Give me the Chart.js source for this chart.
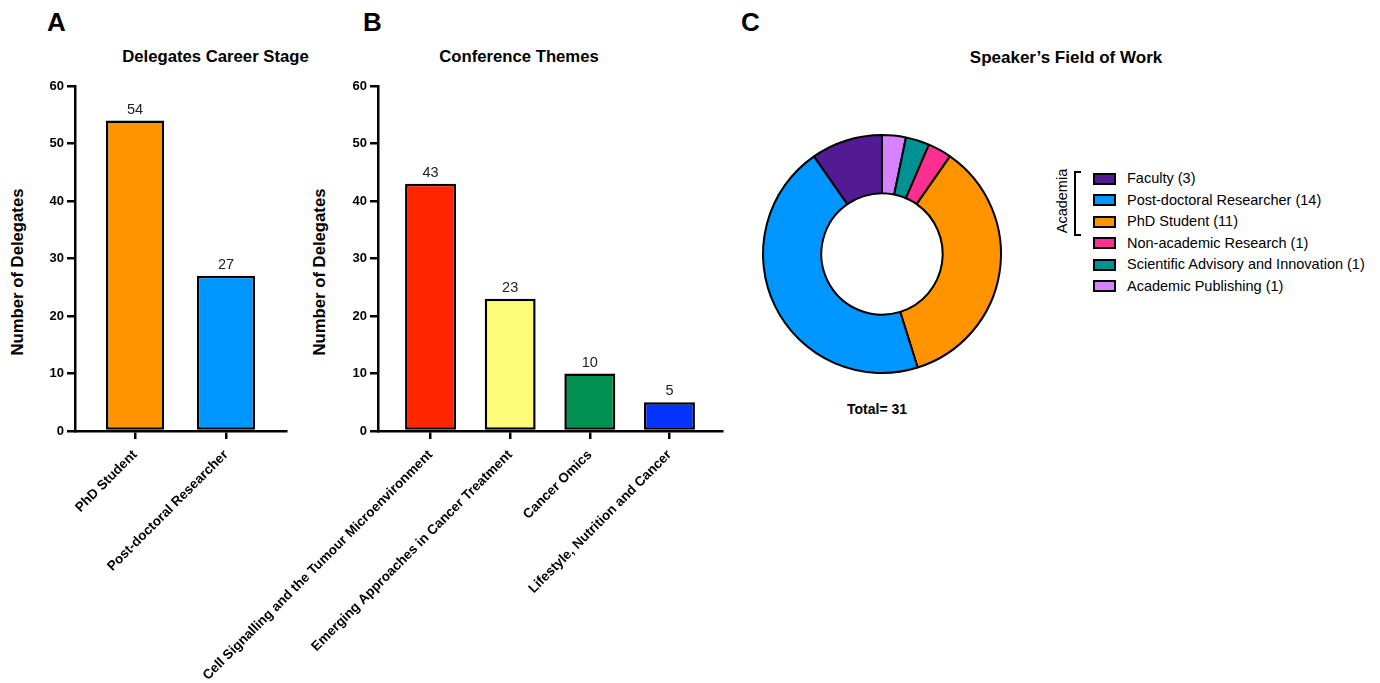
<!DOCTYPE html>
<html lang="en">
<head>
  <meta charset="UTF-8" />
  <title>Conference Delegates and Speakers</title>
  <script src="https://cdn.jsdelivr.net/npm/chart.js@4.4.0/dist/chart.umd.min.js"></script>
  <style>
    body { margin: 0; width: 1380px; height: 683px; overflow: hidden; background: #fff;
           font-family: "Liberation Sans", Arial, Helvetica, sans-serif; color: #000; }
    canvas { position: absolute; }
    .txt { position: absolute; white-space: nowrap; line-height: 1; }
    .letter { font-size: 26px; font-weight: bold; }
    .title { font-size: 16.7px; font-weight: bold; transform: translateX(-50%); }
    .ytitle { font-size: 16.7px; font-weight: bold; transform: translate(-50%, -50%) rotate(-90deg); }
    #legend { position: absolute; left: 1093px; top: 167.75px; }
    #legend .row { display: flex; align-items: center; height: 21.5px; }
    #legend .sw { width: 23px; height: 12px; box-sizing: border-box; border: 2.5px solid #000; margin-right: 11px; }
    #legend .lbl { font-size: 14.5px; line-height: 1; }
    #bracket { position: absolute; left: 1074px; top: 171px; width: 5px; height: 61px;
               border: 2px solid #000; border-right: none; }
  </style>
</head>
<body>
  <div class="txt letter" style="left:47px; top:9px">A</div>
  <div class="txt letter" style="left:363px; top:9px">B</div>
  <div class="txt letter" style="left:741px; top:9px">C</div>

  <div class="txt title" style="left:215.5px; top:49px">Delegates Career Stage</div>
  <div class="txt title" style="left:519px; top:49px">Conference Themes</div>
  <div class="txt title" style="left:1066px; top:49px; font-size:17px">Speaker’s Field of Work</div>

  <div class="txt ytitle" style="left:18px; top:271.5px">Number of Delegates</div>
  <div class="txt ytitle" style="left:320px; top:271.5px">Number of Delegates</div>

  <canvas id="careerChart" width="300" height="613" style="left:0; top:70px"></canvas>
  <canvas id="themeChart" width="640" height="613" style="left:100px; top:70px"></canvas>
  <canvas id="speakerChart" width="260" height="260" style="left:752px; top:124px"></canvas>

  <div id="total" class="txt" style="left:877px; top:401.5px; font-size:14px; font-weight:bold; transform:translateX(-50%)"></div>

  <div class="txt" style="left:1061.5px; top:201px; font-size:14.5px; transform:translate(-50%, -50%) rotate(-90deg)">Academia</div>
  <div id="bracket"></div>
  <div id="legend"></div>

  <script>
    // panel A
    const careerLabels = ["PhD Student", "Post-doctoral Researcher"];
    const careerCounts = [54, 27];
    const careerColors = ["#FF9300", "#0096FF"];

    // panel B
    const themeLabels = [
      "Cell Signalling and the Tumour Microenvironment",
      "Emerging Approaches in Cancer Treatment",
      "Cancer Omics",
      "Lifestyle, Nutrition and Cancer"
    ];
    const themeCounts = [43, 23, 10, 5];
    const themeColors = ["#FF2600", "#FFFC79", "#009051", "#0433FF"];

    // panel C (legend order)
    const speakerFields = [
      "Faculty",
      "Post-doctoral Researcher",
      "PhD Student",
      "Non-academic Research",
      "Scientific Advisory and Innovation",
      "Academic Publishing"
    ];
    const speakerCounts = [3, 14, 11, 1, 1, 1];
    const speakerColors = ["#531B93", "#0096FF", "#FF9300", "#FF2F92", "#009193", "#D783FF"];

    const yTicks = [0, 10, 20, 30, 40, 50, 60];

    Chart.defaults.font.family = '"Liberation Sans", Arial, Helvetica, sans-serif';
    Chart.defaults.color = "#000";

    const valueLabels = {
      id: "valueLabels",
      afterDatasetsDraw(chart) {
        const ctx = chart.ctx;
        ctx.save();
        ctx.font = '14.5px "Liberation Sans", Arial, sans-serif';
        ctx.fillStyle = "#222";
        ctx.textAlign = "center";
        ctx.textBaseline = "alphabetic";
        chart.getDatasetMeta(0).data.forEach((bar, i) => {
          ctx.fillText(chart.data.datasets[0].data[i].y, bar.x, bar.y - 7);
        });
        ctx.restore();
      }
    };

    function barChart(id, labels, counts, colors, yWidth, padRight) {
      const n = labels.length;
      return new Chart(document.getElementById(id), {
        type: "bar",
        data: {
          datasets: [{
            data: counts.map((v, i) => ({ x: i + 1, y: v })),
            backgroundColor: colors,
            borderColor: "#000",
            borderWidth: 2.5,
            borderSkipped: false,
            categoryPercentage: 1,
            barPercentage: 0.64
          }]
        },
        options: {
          responsive: false,
          animation: false,
          events: [],
          layout: { padding: { left: 0, top: 16, right: padRight, bottom: 0 } },
          plugins: { legend: { display: false }, tooltip: { enabled: false } },
          scales: {
            x: {
              type: "linear",
              offset: false,
              min: 0.34,
              max: n + 0.66,
              afterBuildTicks: s => { s.ticks = labels.map((_, i) => ({ value: i + 1 })); },
              afterFit: s => { s.height = 252; },
              grid: { offset: false, drawOnChartArea: false, color: "#000", lineWidth: 2.5, tickLength: 8 },
              border: { color: "#000", width: 2.5 },
              ticks: {
                autoSkip: false,
                minRotation: 45,
                maxRotation: 45,
                padding: 8,
                font: { size: 13.5, weight: "bold" },
                callback: v => labels[v - 1]
              }
            },
            y: {
              min: 0,
              max: 60,
              afterBuildTicks: s => { s.ticks = yTicks.map(v => ({ value: v })); },
              afterFit: s => { s.width = yWidth; },
              grid: { drawOnChartArea: false, color: "#000", lineWidth: 2.5, tickLength: 8 },
              border: { color: "#000", width: 2.5 },
              ticks: { padding: 3, font: { size: 13, weight: "bold" } }
            }
          }
        },
        plugins: [valueLabels]
      });
    }

    barChart("careerChart", careerLabels, careerCounts, careerColors, 75, 14);
    barChart("themeChart", themeLabels, themeCounts, themeColors, 278, 18);

    // doughnut runs clockwise from 12 o'clock, reverse of the legend
    new Chart(document.getElementById("speakerChart"), {
      type: "doughnut",
      data: {
        labels: speakerFields.slice().reverse(),
        datasets: [{
          data: speakerCounts.slice().reverse(),
          backgroundColor: speakerColors.slice().reverse(),
          borderColor: "#000",
          borderWidth: 2
        }]
      },
      options: {
        responsive: false,
        animation: false,
        events: [],
        radius: 119,
        cutout: "51%",
        plugins: { legend: { display: false }, tooltip: { enabled: false } }
      }
    });

    const total = speakerCounts.reduce((a, b) => a + b, 0);
    document.getElementById("total").textContent = "Total= " + total;

    const legendEl = document.getElementById("legend");
    speakerFields.forEach((name, i) => {
      const row = document.createElement("div");
      row.className = "row";
      row.innerHTML = `<div class="sw" style="background:${speakerColors[i]}"></div>` +
                      `<div class="lbl">${name} (${speakerCounts[i]})</div>`;
      legendEl.appendChild(row);
    });
  </script>
</body>
</html>
